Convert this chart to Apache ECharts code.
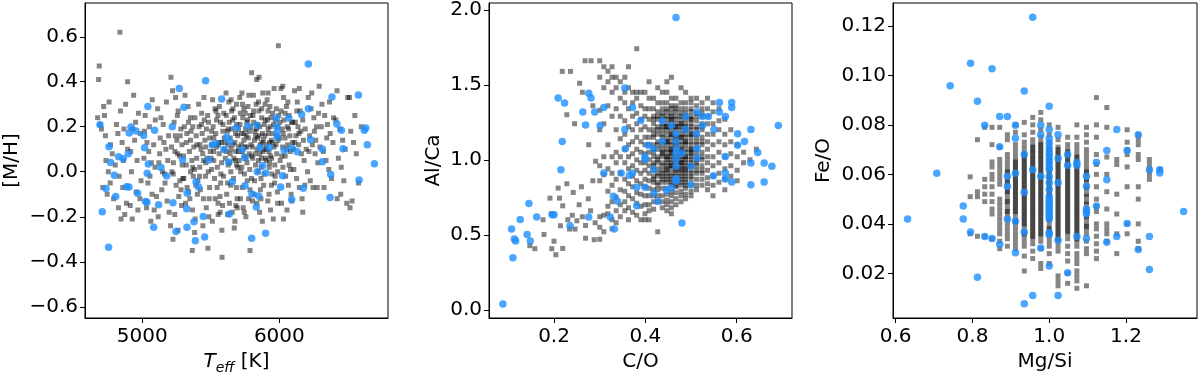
<!DOCTYPE html>
<html>
<head>
<meta charset="utf-8">
<script src="https://cdn.jsdelivr.net/npm/echarts@6/dist/echarts.min.js"></script>
<style>
  html, body { margin: 0; padding: 0; background: #fff; }
  #chart { width: 1200px; height: 373px; }
</style>
</head>
<body>
<div id="chart"></div>
<script>
// ---- panel 1 : Teff vs [M/H] ----
const teffGrey = [
  [4686,0.47],[4681,0.41],[4674,0.24],[4718,0.29],[4693,0.21],[4702,0.19],[4731,0.16],[4712,-0.07],[4744,-0.10],[4766,-0.05],[4781,0.08],[4768,0.12],[4803,0.03],[4791,-0.12],[4752,0.00],[4724,0.25],[4758,0.31],[4735,0.05],
  [4837,0.62],[4822,0.17],[4853,0.13],[4831,-0.02],[4862,0.05],[4884,-0.14],[4845,-0.21],[4872,-0.19],[4812,0.21],[4893,0.10],[4858,-0.07],[4841,0.27],[4878,0.30],[4826,-0.16],[4866,0.19],
  [4893,0.40],[4937,0.34],[4927,-0.21],[4912,-0.15],[4951,0.22],[4962,0.05],[4921,0.00],[4983,-0.12],[4944,0.14],[4972,0.26],[4991,-0.04],[4915,0.09],[4955,-0.09],[4985,0.17],[4931,0.19],[4968,-0.17],
  [5073,0.32],[5021,0.25],[5052,0.20],[5012,0.06],[5041,-0.05],[5083,0.12],[5031,-0.16],[5062,-0.22],[5093,0.02],[5071,-0.10],[5016,0.18],[5047,0.09],[5095,0.23],[5056,-0.02],[5087,-0.17],[5034,0.13],[5066,0.04],
  [5112,0.28],[5153,0.21],[5131,0.15],[5172,0.10],[5121,0.04],[5163,-0.01],[5142,-0.08],[5181,-0.13],[5116,-0.20],[5192,0.16],[5176,0.31],[5127,0.08],[5147,0.00],[5166,-0.05],[5196,-0.18],[5136,0.24],[5186,0.05],[5158,0.13],[5104,-0.11],
  [5209,0.42],[5221,0.36],[5243,0.33],[5262,0.27],[5232,0.22],[5281,0.19],[5252,0.14],[5213,0.11],[5273,0.07],[5291,0.03],[5226,-0.01],[5247,-0.06],[5266,-0.11],[5287,-0.15],[5237,-0.19],[5224,-0.30],[5256,0.25],[5277,0.16],[5216,0.00],[5296,-0.03],[5206,-0.24],[5261,-0.26],[5238,0.09],[5283,-0.08],
  [5312,0.34],[5334,0.29],[5351,0.24],[5368,0.20],[5393,0.16],[5321,0.13],[5344,0.09],[5362,0.05],[5381,0.01],[5303,-0.03],[5327,-0.07],[5347,-0.12],[5366,-0.17],[5386,-0.21],[5365,-0.35],[5356,0.18],[5337,0.22],[5376,0.11],[5397,0.06],[5316,-0.14],[5391,-0.06],[5352,0.00],[5301,0.07],[5382,-0.27],[5325,0.17],[5372,-0.02],
  [5411,0.30],[5433,0.26],[5452,0.23],[5468,0.19],[5492,0.15],[5421,0.12],[5441,0.08],[5463,0.04],[5481,0.00],[5406,-0.04],[5424,-0.08],[5446,-0.12],[5467,-0.16],[5486,-0.20],[5479,-0.34],[5414,0.20],[5457,0.14],[5496,0.09],[5437,0.17],[5473,0.06],[5402,-0.10],[5461,-0.02],[5442,-0.24],[5491,-0.07],[5419,0.02],[5450,0.33],[5428,0.10],[5483,0.22],
  [5513,0.32],[5531,0.28],[5552,0.25],[5571,0.22],[5588,0.18],[5522,0.15],[5543,0.11],[5561,0.08],[5579,0.04],[5506,0.01],[5527,-0.03],[5546,-0.07],[5567,-0.11],[5586,-0.15],[5554,-0.19],[5582,-0.38],[5517,0.20],[5536,0.17],[5576,0.13],[5597,0.10],[5502,0.06],[5548,0.02],[5593,-0.02],[5532,-0.12],[5572,-0.05],[5563,0.29],[5511,-0.22],[5581,-0.26],[5521,0.09],[5541,0.23],[5558,0.13],[5595,0.26],[5507,0.12],[5569,-0.18],
  [5611,0.35],[5632,0.31],[5651,0.27],[5672,0.24],[5689,0.21],[5621,0.18],[5642,0.15],[5661,0.12],[5683,0.09],[5606,0.06],[5627,0.03],[5646,0.00],[5666,-0.03],[5687,-0.07],[5616,-0.10],[5636,-0.14],[5657,-0.18],[5676,-0.22],[5696,0.16],[5613,0.25],[5634,0.22],[5654,0.19],[5678,0.05],[5698,0.02],[5622,-0.05],[5662,0.28],[5692,-0.12],[5641,0.08],[5603,0.13],[5671,-0.25],[5648,0.10],[5681,0.17],[5626,0.12],[5668,0.06],[5693,-0.16],
  [5711,0.33],[5731,0.30],[5752,0.26],[5769,0.23],[5791,0.20],[5722,0.17],[5741,0.14],[5762,0.11],[5781,0.08],[5706,0.05],[5726,0.02],[5746,-0.01],[5766,-0.04],[5786,-0.08],[5716,-0.12],[5736,-0.16],[5756,-0.20],[5798,0.44],[5786,-0.35],[5713,0.21],[5733,0.24],[5753,0.19],[5773,0.15],[5793,0.12],[5703,0.09],[5723,0.12],[5744,0.07],[5764,0.04],[5784,0.01],[5797,-0.03],[5741,0.28],[5776,-0.12],[5758,0.16],[5728,0.09],[5789,0.25],[5718,0.00],[5749,0.11],
  [5835,0.41],[5852,0.42],[5811,0.34],[5831,0.30],[5851,0.27],[5871,0.24],[5891,0.21],[5821,0.18],[5841,0.15],[5861,0.12],[5881,0.09],[5806,0.06],[5826,0.03],[5846,0.00],[5866,-0.03],[5886,-0.06],[5816,-0.10],[5836,-0.14],[5856,-0.18],[5876,-0.22],[5813,0.22],[5834,0.19],[5853,0.16],[5873,0.13],[5894,0.16],[5803,0.11],[5824,0.08],[5847,0.05],[5867,0.02],[5887,0.10],[5896,0.30],[5862,-0.08],[5879,0.35],[5843,0.21],[5818,0.14],[5858,0.08],[5899,0.06],
  [5993,0.56],[5911,0.32],[5931,0.29],[5951,0.26],[5971,0.23],[5989,0.20],[5921,0.17],[5941,0.14],[5961,0.11],[5981,0.08],[5906,0.05],[5926,0.02],[5946,-0.01],[5966,-0.05],[5986,-0.09],[5916,-0.13],[5936,-0.17],[5956,-0.21],[5913,0.23],[5933,0.20],[5954,0.17],[5976,0.12],[5996,0.25],[5903,0.12],[5924,0.09],[5944,0.06],[5967,0.03],[5988,0.00],[5962,0.37],[5942,-0.06],[5918,0.27],[5979,0.16],[5928,0.13],
  [6011,0.37],[6031,0.33],[6052,0.29],[6071,0.25],[6089,0.22],[6021,0.19],[6041,0.15],[6061,0.12],[6081,0.09],[6006,0.05],[6026,0.02],[6046,-0.02],[6066,-0.06],[6086,-0.10],[6030,-0.21],[6016,-0.14],[6056,-0.17],[6013,0.27],[6034,0.23],[6058,0.20],[6077,0.16],[6096,0.13],[6043,0.07],[6071,0.03],[6091,-0.13],[6003,0.15],[6024,0.11],[6062,0.31],
  [6111,0.36],[6131,0.31],[6152,0.27],[6171,0.23],[6189,0.19],[6121,0.16],[6141,0.12],[6161,0.08],[6181,0.05],[6106,0.01],[6126,-0.03],[6146,-0.07],[6166,-0.12],[6186,-0.06],[6116,0.22],[6136,0.20],[6156,0.18],[6176,0.14],[6196,0.10],[6171,-0.18],[6146,0.37],[6103,0.10],
  [6211,0.33],[6231,0.28],[6252,0.24],[6271,0.20],[6291,0.38],[6221,0.16],[6241,0.12],[6261,0.08],[6281,0.04],[6206,0.00],[6226,-0.04],[6246,-0.07],[6266,0.14],[6286,0.26],[6216,0.09],[6256,0.18],[6296,0.11],[6276,-0.07],[6236,0.35],
  [6311,0.30],[6331,0.25],[6351,0.21],[6371,0.17],[6391,0.13],[6321,0.09],[6341,0.05],[6361,0.01],[6381,-0.03],[6346,0.15],[6306,0.20],[6396,0.24],[6326,-0.07],[6366,0.31],
  [6421,0.36],[6412,0.23],[6441,0.19],[6462,0.14],[6481,0.10],[6431,0.06],[6452,0.02],[6471,-0.04],[6448,-0.10],[6492,-0.14],[6422,-0.12],[6499,0.33],
  [6512,0.33],[6521,0.18],[6541,0.13],[6562,0.08],[6531,-0.13],[6516,-0.16],[6551,0.25],[6598,0.20],[6578,-0.05]
]
// extra stars in the crowded middle of the cloud
const teffGreyCore = [
  [5505,0.18],[5522,0.05],[5538,0.27],[5555,0.12],[5573,-0.01],[5589,0.21],[5612,0.09],[5627,0.19],[5645,-0.06],[5659,0.23],
  [5676,0.13],[5688,0.03],[5702,0.19],[5716,0.26],[5729,-0.07],[5743,0.17],[5757,0.06],[5771,0.29],[5782,0.18],[5796,0.07],
  [5808,0.25],[5819,-0.04],[5827,0.16],[5839,0.10],[5848,0.31],[5857,0.20],[5869,0.06],[5877,0.17],[5888,-0.01],[5897,0.23],
  [5909,0.10],[5918,0.19],[5929,0.04],[5938,0.24],[5949,0.13],[5958,0.21],[5969,-0.02],[5978,0.28],[5991,0.14],[6004,0.22],
  [6018,0.07],[6029,0.17],[6042,0.26],[6054,0.10],[6068,0.19],[6081,0.01],[6097,0.22],[6112,0.13],[6128,0.27],[6143,0.17],
  [5463,0.11],[5477,0.25],[5446,0.05],[5432,0.21],[5418,-0.02],[5399,0.12],[5384,0.24],[5368,0.02],[5352,0.14],[5338,-0.09],
  [5321,0.03],[5307,0.20],[5289,0.12],[5274,-0.04],[5258,0.08],[5241,0.16],[5227,0.04],[5683,-0.15],[5744,-0.18],[5804,-0.13],
  [5866,-0.12],[5925,-0.10],[5988,-0.14],[5623,-0.19],[5553,-0.14],[5488,-0.12],[5648,0.32],[5727,0.35],[5778,0.34],[5918,0.35],
  [6025,0.38],[5688,0.30],[5763,0.22],[5812,0.27],[5871,0.28],[5702,0.11],[5638,0.04],[5598,0.15],[5935,0.07],[5884,0.14]
]
const teffBlue = [
  [6212,0.479],[5462,0.404],[5270,0.370],[5579,0.323],[5041,0.290],[5304,0.287],[6384,0.332],[6577,0.341],[6212,0.280],[6163,0.255],
  [5978,0.239],[6069,0.239],[4691,0.209],[6420,0.212],[6453,0.184],[6630,0.194],[6620,0.184],[4917,0.199],[4954,0.181],[4905,0.172],
  [5219,0.200],[5090,0.184],[5010,0.161],[5686,0.196],[5769,0.203],[5837,0.207],[5981,0.200],[5985,0.176],[5985,0.153],[6228,0.142],
  [5616,0.153],[5640,0.133],[5538,0.126],[5511,0.119],[4757,0.111],[5017,0.107],[6465,0.102],[6642,0.120],[6314,0.101],[5596,0.099],
  [5730,0.099],[5859,0.108],[5927,0.108],[6036,0.095],[6092,0.105],[6131,0.089],[4827,0.067],[4861,0.059],[4898,0.080],[4769,0.041],
  [5044,0.034],[5294,0.053],[5484,0.052],[5630,0.043],[5747,0.062],[5878,0.028],[6314,0.044],[6694,0.036],[4796,-0.016],[5036,-0.007],
  [5136,0.019],[5178,-0.019],[5839,0.000],[5902,-0.006],[6024,-0.018],[6375,-0.012],[4735,-0.074],[4886,-0.067],[4903,-0.068],[4966,-0.095],
  [5392,-0.044],[5411,-0.068],[5657,-0.044],[5749,-0.062],[6010,-0.068],[6175,-0.073],[6582,-0.037],[4806,-0.110],[5024,-0.132],[5034,-0.136],
  [5119,-0.147],[5224,-0.138],[5328,-0.095],[5800,-0.099],[5849,-0.108],[6090,-0.123],[6370,-0.114],[4708,-0.178],[5324,-0.164],[5445,-0.199],
  [5635,-0.188],[5832,-0.157],[5083,-0.247],[5246,-0.265],[5326,-0.247],[5377,-0.222],[5387,-0.307],[5455,-0.290],[5798,-0.295],[5900,-0.273],
  [4754,-0.335]
]

// ---- panel 2 : C/O vs Al/Ca ----  columns: [C/O, [Al/Ca ...]]
const coGreyCols = [
  [0.300,[1.66,1.55,1.33,1.20,0.96,0.86,0.62,0.55,0.47]],
  [0.309,[1.62,1.48,1.24,1.02,0.90,0.63,0.52]],
  [0.318,[1.59,1.52,1.36,1.10,0.94,0.79,0.69,0.64]],
  [0.327,[1.62,1.55,1.45,1.29,1.02,0.91,0.83,0.72,0.60,0.54]],
  [0.336,[1.55,1.48,1.34,1.20,1.05,0.98,0.87,0.75,0.66,0.58]],
  [0.345,[1.52,1.41,1.29,1.14,1.02,0.91,0.80,0.70,0.62]],
  [0.355,[1.55,1.45,1.38,1.26,1.17,1.07,0.98,0.87,0.79,0.72,0.66]],
  [0.363,[1.62,1.48,1.34,1.22,1.10,1.02,0.94,0.84,0.76,0.68,0.60]],
  [0.372,[1.45,1.38,1.29,1.20,1.12,1.04,0.96,0.89,0.82,0.74,0.65]],
  [0.381,[1.74,1.45,1.41,1.31,1.24,1.15,1.07,1.00,0.93,0.86,0.78,0.71,0.63]],
  [0.390,[1.45,1.36,1.27,1.20,1.12,1.05,0.98,0.91,0.84,0.77,0.69,0.60]],
  [0.399,[1.45,1.34,1.29,1.22,1.15,1.10,1.04,0.98,0.93,0.87,0.82,0.76,0.70,0.64,0.60]],
  [0.408,[1.52,1.41,1.34,1.27,1.20,1.15,1.10,1.05,1.00,0.96,0.91,0.86,0.81,0.76,0.70,0.66,0.60]],
  [0.418,[1.41,1.34,1.29,1.24,1.20,1.15,1.10,1.05,1.02,0.98,0.93,0.89,0.85,0.80,0.76,0.72,0.67]],
  [0.427,[1.48,1.38,1.32,1.27,1.22,1.17,1.12,1.07,1.02,0.98,0.94,0.89,0.85,0.80,0.76,0.72,0.52]],
  [0.437,[1.45,1.38,1.34,1.29,1.24,1.20,1.15,1.10,1.05,1.02,0.98,0.93,0.89,0.85,0.81,0.76,0.72,0.68]],
  [0.447,[1.52,1.45,1.38,1.32,1.27,1.22,1.17,1.12,1.07,1.02,0.98,0.94,0.89,0.85,0.81,0.77,0.73,0.70,0.66]],
  [0.457,[1.55,1.41,1.36,1.31,1.27,1.22,1.17,1.12,1.07,1.04,1.00,0.96,0.91,0.87,0.83,0.79,0.76,0.72,0.68,0.64]],
  [0.467,[1.41,1.36,1.32,1.27,1.22,1.17,1.14,1.10,1.05,1.02,0.98,0.94,0.89,0.85,0.82,0.78,0.74,0.70]],
  [0.478,[1.48,1.38,1.34,1.29,1.24,1.20,1.15,1.10,1.07,1.02,0.98,0.94,0.91,0.87,0.83,0.79,0.76,0.72]],
  [0.488,[1.45,1.38,1.34,1.29,1.24,1.20,1.15,1.12,1.07,1.02,0.98,0.94,0.89,0.85,0.81,0.77,0.74]],
  [0.500,[1.41,1.38,1.32,1.27,1.22,1.17,1.12,1.07,1.04,1.00,0.96,0.91,0.87,0.83,0.79,0.76]],
  [0.512,[1.41,1.36,1.31,1.26,1.20,1.15,1.10,1.05,1.00,0.96,0.91,0.87,0.83,0.80]],
  [0.524,[1.38,1.34,1.29,1.24,1.20,1.15,1.10,1.05,1.00,0.96,0.91,0.87,0.83]],
  [0.536,[1.41,1.34,1.29,1.24,1.17,1.12,1.07,1.02,0.98,0.93,0.88,0.84,0.80]],
  [0.548,[1.38,1.32,1.24,1.17,1.10,1.02,0.96,0.89,0.83,0.76]],
  [0.561,[1.34,1.26,1.20,1.12,1.05,0.98,0.91,0.85]],
  [0.574,[1.27,1.17,1.10,1.02,0.94,0.87,0.80]],
  [0.587,[1.20,1.12,1.04,0.96,0.89]],
  [0.601,[1.10,1.02,0.93,0.86]],
  [0.615,[1.05,0.98]],
  [0.629,[1.00]],
  [0.643,[1.07]]
]
const coGreyCore = [
  [0.418,[1.27,1.17,1.07,0.96,0.87]],
  [0.427,[1.29,1.20,1.10,1.00,0.91,0.83]],
  [0.437,[1.31,1.22,1.12,1.04,0.96,0.87,1.27,1.17,1.07,0.91]],
  [0.447,[1.34,1.24,1.14,1.05,0.96,0.87,1.29,1.20,1.10,1.00,0.91]],
  [0.457,[1.29,1.20,1.10,1.02,0.94,0.85,1.34,1.24,1.15,1.05,0.98,0.89]],
  [0.467,[1.34,1.24,1.15,1.07,1.00,0.91,0.83,1.29,1.20,1.12,0.96,0.87]],
  [0.478,[1.31,1.22,1.12,1.04,0.96,0.89,1.27,1.17,1.05,1.00,0.93,0.85]],
  [0.488,[1.31,1.22,1.10,1.00,0.91,0.83,1.27,1.17,1.05,0.96,0.87]],
  [0.500,[1.34,1.24,1.15,1.05,0.98,0.89,1.29,1.20,1.10,1.02,0.93]],
  [0.512,[1.29,1.17,1.07,0.98,1.22,1.12,1.02,0.93]],
  [0.524,[1.31,1.22,1.12,1.02,0.93]],
  [0.447,[1.22,1.12,1.02,0.93]],
  [0.457,[1.27,1.17,1.07,0.96]],
  [0.467,[1.22,1.10,1.02,0.93]],
  [0.478,[1.24,1.15,1.07,0.98]],
  [0.488,[1.20,1.12,1.02,0.93]],
  [0.500,[1.27,1.17,1.07,0.96]]
]
const coGreyLoose = [
  [0.147,0.427],[0.158,0.407],[0.178,0.502],[0.195,0.407],[0.200,0.457],[0.204,0.367],[0.219,0.409],[0.234,0.538],[0.246,0.538],[0.250,0.593],
  [0.269,0.562],[0.269,0.477],[0.288,0.467],[0.191,0.744],[0.212,0.744],[0.219,0.693],[0.228,0.840],[0.209,0.811],[0.242,0.782],[0.255,0.700],
  [0.262,0.620],[0.275,0.740],[0.280,0.660],[0.285,0.860],[0.290,0.580],[0.218,1.589],[0.236,1.589],[0.268,1.660],[0.281,1.660],[0.256,1.510],
  [0.262,1.450],[0.228,1.300],[0.245,1.240],[0.276,1.100],[0.285,1.360],[0.291,0.990],[0.240,0.630],[0.260,0.820],[0.230,0.600],[0.214,0.560],
  [0.194,0.640],[0.176,0.600]
]
const coBlue = [
  [0.467,1.949],[0.209,1.411],[0.223,1.378],[0.276,1.444],[0.281,1.411],[0.263,1.318],[0.289,1.318],[0.309,1.349],[0.355,1.478],[0.372,1.349],
  [0.269,1.231],[0.301,1.229],[0.355,1.202],[0.390,1.262],[0.437,1.258],[0.457,1.229],[0.488,1.289],[0.513,1.318],[0.525,1.289],[0.538,1.289],
  [0.562,1.382],[0.589,1.382],[0.589,1.349],[0.562,1.318],[0.575,1.289],[0.691,1.229],[0.631,1.202],[0.525,1.229],[0.550,1.202],[0.488,1.202],
  [0.467,1.173],[0.512,1.173],[0.602,1.173],[0.617,1.122],[0.602,1.096],[0.218,1.122],[0.437,1.122],[0.406,1.096],[0.418,1.073],[0.467,1.122],
  [0.468,1.073],[0.356,1.073],[0.399,1.022],[0.399,1.004],[0.467,1.044],[0.480,1.044],[0.513,1.073],[0.513,1.011],[0.575,1.022],[0.646,1.049],
  [0.467,1.004],[0.500,0.956],[0.467,0.956],[0.631,0.978],[0.660,0.978],[0.677,0.956],[0.215,0.933],[0.309,0.911],[0.347,0.911],[0.365,0.896],
  [0.372,0.911],[0.418,0.933],[0.467,0.873],[0.467,0.856],[0.549,0.893],[0.575,0.911],[0.575,0.871],[0.589,0.851],[0.631,0.833],[0.660,0.851],
  [0.500,0.833],[0.381,0.816],[0.399,0.816],[0.446,0.796],[0.457,0.811],[0.418,0.778],[0.427,0.724],[0.330,0.756],[0.339,0.724],[0.381,0.693],
  [0.145,0.709],[0.126,0.602],[0.162,0.618],[0.196,0.633],[0.200,0.633],[0.276,0.618],[0.323,0.618],[0.235,0.560],[0.332,0.538],[0.480,0.578],
  [0.107,0.538],[0.113,0.471],[0.116,0.458],[0.141,0.502],[0.148,0.458],[0.110,0.347],[0.088,0.038]
]

// ---- panel 3 : Mg/Si vs Fe/O ----  columns: [Mg/Si, [Fe/O ...]]
const mgsiGreyCols = [
  [0.794,[0.059,0.051,0.036]],
  [0.813,[0.074,0.053,0.051,0.035]],
  [0.832,[0.079,0.058,0.055,0.052,0.049,0.035]],
  [0.851,[0.079,0.072,0.065,0.063,0.060,0.058,0.055,0.052,0.049,0.046,0.044,0.034]],
  [0.871,[0.079,0.071,0.066,0.064,0.062,0.060,0.058,0.056,0.050,0.048,0.046,0.044,0.042,0.040,0.038,0.036,0.033,0.030]],
  [0.891,[0.076,0.074,0.068,0.066,0.064,0.062,0.060,0.058,0.056,0.054,0.052,0.050,0.048,0.046,0.044,0.042,0.040,0.038,0.036,0.034,0.031]],
  [0.912,[0.080,0.077,0.072,0.070,0.068,0.066,0.064,0.062,0.060,0.058,0.056,0.054,0.052,0.050,0.048,0.046,0.044,0.042,0.040,0.038,0.036,0.034,0.032,0.030]],
  [0.935,[0.081,0.076,0.073,0.071,0.069,0.067,0.065,0.063,0.061,0.059,0.057,0.055,0.053,0.051,0.049,0.047,0.045,0.043,0.041,0.039,0.037,0.035,0.033,0.031,0.027,0.021]],
  [0.957,[0.083,0.080,0.077,0.074,0.072,0.070,0.068,0.066,0.064,0.062,0.060,0.058,0.056,0.054,0.052,0.050,0.048,0.046,0.044,0.042,0.040,0.038,0.036,0.034,0.032,0.029,0.026]],
  [0.978,[0.085,0.082,0.078,0.075,0.073,0.071,0.069,0.067,0.065,0.063,0.061,0.059,0.057,0.055,0.053,0.051,0.049,0.047,0.045,0.043,0.041,0.039,0.037,0.035,0.033,0.030,0.024,0.022]],
  [1.000,[0.080,0.076,0.073,0.071,0.069,0.067,0.065,0.063,0.061,0.059,0.057,0.055,0.053,0.051,0.049,0.047,0.045,0.043,0.041,0.039,0.037,0.035,0.033,0.031,0.028,0.024]],
  [1.023,[0.079,0.074,0.071,0.069,0.067,0.065,0.063,0.061,0.059,0.057,0.055,0.053,0.051,0.049,0.047,0.045,0.043,0.041,0.039,0.037,0.035,0.033,0.031,0.029,0.019,0.017,0.015]],
  [1.048,[0.075,0.072,0.070,0.068,0.066,0.064,0.062,0.060,0.058,0.056,0.054,0.052,0.050,0.048,0.046,0.044,0.042,0.040,0.038,0.036,0.034,0.031,0.028,0.025,0.020,0.016]],
  [1.072,[0.080,0.075,0.072,0.070,0.068,0.066,0.064,0.062,0.060,0.058,0.056,0.054,0.052,0.050,0.048,0.046,0.044,0.042,0.040,0.038,0.036,0.034,0.031,0.028,0.026,0.024,0.021,0.019,0.017,0.014]],
  [1.097,[0.079,0.076,0.073,0.070,0.068,0.066,0.064,0.061,0.058,0.055,0.052,0.049,0.046,0.043,0.040,0.038,0.036,0.033,0.030,0.028,0.015]],
  [1.123,[0.091,0.080,0.075,0.068,0.064,0.060,0.055,0.050,0.047,0.045,0.040,0.038,0.035,0.032,0.029,0.026]],
  [1.150,[0.087,0.079,0.067,0.060,0.053,0.046,0.040,0.038,0.036,0.033]],
  [1.176,[0.066,0.064,0.052,0.044,0.036,0.028]],
  [1.203,[0.078,0.073,0.070,0.068,0.063,0.055,0.040,0.036]],
  [1.232,[0.076,0.074,0.072,0.068,0.066,0.055,0.050,0.040,0.033,0.030]],
  [1.261,[0.066,0.064,0.062,0.060,0.058]],
  [1.288,[0.062]]
]
const mgsiGreyCore = [
  [0.891,[0.061,0.057,0.053,0.049,0.045]],
  [0.912,[0.063,0.059,0.055,0.051,0.047,0.065,0.061,0.057,0.053,0.049,0.045,0.041]],
  [0.935,[0.066,0.062,0.058,0.054,0.050,0.046,0.042,0.068,0.064,0.060,0.056,0.052,0.048,0.044,0.040,0.036]],
  [0.957,[0.069,0.065,0.061,0.057,0.053,0.049,0.045,0.041,0.037,0.071,0.067,0.063,0.059,0.055,0.051,0.047,0.043,0.039,0.035]],
  [0.978,[0.070,0.066,0.062,0.058,0.054,0.050,0.046,0.042,0.038,0.072,0.068,0.064,0.060,0.056,0.052,0.048,0.044,0.040,0.036]],
  [1.000,[0.068,0.064,0.060,0.056,0.052,0.048,0.044,0.070,0.066,0.062,0.058,0.054,0.050,0.046,0.042,0.038]],
  [1.023,[0.068,0.064,0.060,0.056,0.052,0.048,0.044,0.040,0.036,0.070,0.066,0.062,0.058,0.054,0.050,0.046,0.042,0.038,0.034]],
  [1.048,[0.067,0.063,0.059,0.055,0.051,0.047,0.043,0.039,0.069,0.065,0.061,0.057,0.053,0.049,0.045,0.041,0.037]],
  [1.072,[0.065,0.061,0.057,0.053,0.049,0.045,0.041,0.037,0.033,0.067,0.063,0.059,0.055,0.051,0.047,0.043,0.039,0.035]],
  [1.097,[0.060,0.054,0.048,0.042,0.062,0.057,0.051,0.045,0.039]]
]
const mgsiBlue = [
  [0.957,0.1234],[0.795,0.1049],[0.851,0.1027],[0.742,0.0958],[0.935,0.0937],[0.813,0.0895],[1.000,0.0875],[0.871,0.0834],[0.891,0.0834],[0.832,0.0798],
  [0.912,0.0798],[0.978,0.0798],[1.000,0.0781],[1.176,0.0781],[0.978,0.0760],[1.023,0.0760],[1.232,0.0760],[0.912,0.0746],[1.000,0.0746],[0.871,0.0712],
  [1.000,0.0727],[1.000,0.0707],[1.150,0.0696],[1.203,0.0696],[0.935,0.0680],[1.048,0.0680],[1.023,0.0664],[1.000,0.0677],[1.123,0.0649],[1.072,0.0649],
  [1.000,0.0646],[1.048,0.0637],[1.072,0.0637],[1.261,0.0619],[1.288,0.0619],[1.288,0.0606],[0.957,0.0619],[0.707,0.0605],[0.912,0.0605],[0.891,0.0592],
  [0.978,0.0592],[1.097,0.0592],[1.150,0.0578],[1.023,0.0566],[1.000,0.0566],[0.891,0.0552],[1.097,0.0552],[0.935,0.0528],[1.000,0.0512],[1.123,0.0472],
  [0.776,0.0472],[1.097,0.0451],[1.350,0.0450],[0.631,0.0420],[0.776,0.0420],[0.891,0.0420],[0.912,0.0411],[1.203,0.0402],[0.795,0.0367],[0.935,0.0367],
  [1.000,0.0364],[1.000,0.0357],[0.832,0.0349],[0.851,0.0341],[1.072,0.0349],[1.097,0.0341],[1.176,0.0349],[1.261,0.0349],[1.023,0.0334],[1.150,0.0326],
  [0.871,0.0318],[0.978,0.0303],[1.232,0.0297],[0.912,0.0283],[1.000,0.0230],[0.813,0.0185],[1.048,0.0203],[1.261,0.0216],[0.957,0.0111],[1.023,0.0111],
  [0.935,0.0078],
  [1.000,0.0690],[1.000,0.0660],[1.000,0.0630],[1.000,0.0620],[1.000,0.0590],[1.000,0.0540],[1.000,0.0500],[1.000,0.0490],[1.000,0.0480],[1.000,0.0470],
  [1.000,0.0460],[1.000,0.0450],[1.000,0.0440],[1.000,0.0430],[1.000,0.0420],[1.097,0.0440],[1.097,0.0460]
]

// tick positions
const teffTicks = [5000, 6000]
const mhTicks = [-0.6, -0.4, -0.2, 0.0, 0.2, 0.4, 0.6]
const coTicks = [0.2, 0.4, 0.6]
const alcaTicks = [0.0, 0.5, 1.0, 1.5, 2.0]
const mgsiTicks = [0.6, 0.8, 1.0, 1.2]
const feoTicks = [0.02, 0.04, 0.06, 0.08, 0.10, 0.12]

const FONT = 'DejaVu Sans'
const GREY = 'rgba(0,0,0,0.6)'
const BLUE = '#1E90FF'

let cols = c => c.flatMap(([x, ys]) => ys.map(y => [x, y]))
let fmt = d => v => v.toFixed(d).replace('-', '\u2212')

function axis(kind, idx, min, max, ticks, digits, name, gap, rich) {
  return {
    type: 'value', gridIndex: idx, min: min, max: max,
    name: name, nameLocation: 'middle', nameGap: gap,
    nameTextStyle: Object.assign({ fontFamily: FONT, fontSize: 20, color: '#000' }, rich ? { rich: rich } : {}),
    axisLine: { show: true, onZero: false, lineStyle: { color: '#000', width: 1 } },
    axisTick: { show: true, length: 5, customValues: ticks, lineStyle: { color: '#000', width: 1 } },
    axisLabel: { customValues: ticks, margin: kind === 'x' ? 9 : 7, fontFamily: FONT, fontSize: 20, color: '#000', formatter: fmt(digits) },
    splitLine: { show: false }
  }
}

function grid(left, width) {
  return { left: left, top: 3, width: width, height: 315, show: true, borderColor: '#000', borderWidth: 1, backgroundColor: '#fff', containLabel: false, outerBoundsMode: 'none' }
}

function dots(idx, data, grey) {
  return {
    type: 'scatter', xAxisIndex: idx, yAxisIndex: idx, data: data, silent: true, progressive: 0,
    symbol: grey ? 'rect' : 'circle', symbolSize: grey ? 5 : 7.5,
    itemStyle: { color: grey ? GREY : BLUE }
  }
}

const teffRich = {
  i: { fontFamily: FONT, fontSize: 20, fontStyle: 'italic', color: '#000' },
  s: { fontFamily: FONT, fontSize: 14, fontStyle: 'italic', color: '#000', padding: [12, 0, 0, 0] },
  n: { fontFamily: FONT, fontSize: 20, color: '#000' }
}

const chart = echarts.init(document.getElementById('chart'), null, { renderer: 'canvas' })
chart.setOption({
  animation: false,
  backgroundColor: '#fff',
  grid: [grid(85, 303), grid(489, 303), grid(893, 304)],
  xAxis: [
    axis('x', 0, 4582, 6793, teffTicks, 0, '{i|T}{s|eff}{n| [K]}', 31, teffRich),
    axis('x', 1, 0.0576, 0.721, coTicks, 1, 'C/O', 34),
    axis('x', 2, 0.593, 1.385, mgsiTicks, 1, 'Mg/Si', 34)
  ],
  yAxis: [
    axis('y', 0, -0.65, 0.75, mhTicks, 1, '[M/H]', 63),
    axis('y', 1, -0.055, 2.045, alcaTicks, 1, 'Al/Ca', 45),
    axis('y', 2, 0.0020, 0.1292, feoTicks, 2, 'Fe/O', 59)
  ],
  series: [
    dots(0, teffGrey.concat(teffGreyCore), true),
    dots(0, teffBlue, false),
    dots(1, cols(coGreyCols).concat(cols(coGreyCore), coGreyLoose), true),
    dots(1, coBlue, false),
    dots(2, cols(mgsiGreyCols).concat(cols(mgsiGreyCore)), true),
    dots(2, mgsiBlue, false)
  ]
})
</script>
</body>
</html>
